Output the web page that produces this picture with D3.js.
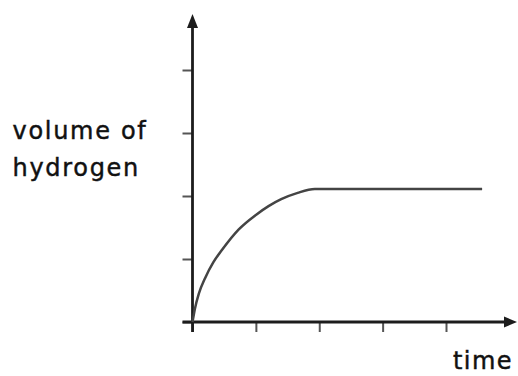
<!DOCTYPE html>
<html>
<head>
<meta charset="utf-8">
<script src="https://cdn.jsdelivr.net/npm/d3@7"></script>
<style>
  html, body { margin: 0; padding: 0; background: #fff; }
  svg { display: block; }
  text { font-family: "DejaVu Sans", Verdana, sans-serif; fill: #111; stroke: #111; stroke-width: 0.45px; }
</style>
</head>
<body>
<svg id="chart" width="518" height="376"></svg>
<script>
// ---- data ----
const timeValues   = [0, 0.04, 0.10, 0.20, 0.33, 0.47, 0.73, 1.00, 1.20, 1.40, 1.66, 1.93, 4.57];
const volumeValues = [0, 0.22, 0.45, 0.70, 0.95, 1.15, 1.47, 1.70, 1.84, 1.95, 2.05, 2.11, 2.11];
const xTicks = [0, 1, 2, 3, 4];
const yTicks = [0, 1, 2, 3, 4];
const yLabelLines = ["volume of", "hydrogen"];
const xLabel = "time";

const svg = d3.select("#chart");
const x = d3.scaleLinear().domain([0, 4]).range([192.5, 446]);
const y = d3.scaleLinear().domain([0, 4]).range([322, 70]);

// ticks
const xAxis = d3.axisBottom(x).tickValues(xTicks).tickSize(10).tickFormat("");
const yAxis = d3.axisLeft(y).tickValues(yTicks).tickSize(10).tickFormat("");
const gx = svg.append("g").attr("transform", `translate(0,${y(0)})`).call(xAxis);
const gy = svg.append("g").attr("transform", `translate(${x(0)},0)`).call(yAxis);
[gx, gy].forEach(g => {
  g.select(".domain").remove();
  g.selectAll(".tick line").attr("stroke", "#555").attr("stroke-width", 2);
});

// axis lines with arrowheads
const axisColor = "#1c1c1c";
const xEnd = 517, yEnd = 14;
svg.append("line").attr("x1", x(0) - 10).attr("x2", xEnd - 8)
  .attr("y1", y(0)).attr("y2", y(0)).attr("stroke", axisColor).attr("stroke-width", 2.8);
svg.append("line").attr("x1", x(0)).attr("x2", x(0))
  .attr("y1", y(0) + 10).attr("y2", yEnd + 8).attr("stroke", axisColor).attr("stroke-width", 2.8);
svg.append("path")
  .attr("d", `M${xEnd},${y(0)} L${xEnd - 13},${y(0) - 5.5} L${xEnd - 13},${y(0) + 5.5} Z`)
  .attr("fill", axisColor);
svg.append("path")
  .attr("d", `M${x(0)},${yEnd} L${x(0) - 5.5},${yEnd + 14} L${x(0) + 5.5},${yEnd + 14} Z`)
  .attr("fill", axisColor);

// curve
const pts = timeValues.map((t, i) => [t, volumeValues[i]]);
const line = d3.line().x(d => x(d[0])).y(d => y(d[1])).curve(d3.curveMonotoneX);
svg.append("path").datum(pts).attr("d", line)
  .attr("fill", "none").attr("stroke", "#444").attr("stroke-width", 2.5);

// labels
svg.append("text").attr("x", 12.5).attr("y", 138.5)
  .attr("font-size", 24).attr("letter-spacing", 1.7).text(yLabelLines[0]);
svg.append("text").attr("x", 12.5).attr("y", 175.5)
  .attr("font-size", 24).attr("letter-spacing", 1.7).text(yLabelLines[1]);
svg.append("text").attr("x", 453).attr("y", 369)
  .attr("font-size", 24).attr("letter-spacing", 1.4).text(xLabel);
</script>
</body>
</html>
